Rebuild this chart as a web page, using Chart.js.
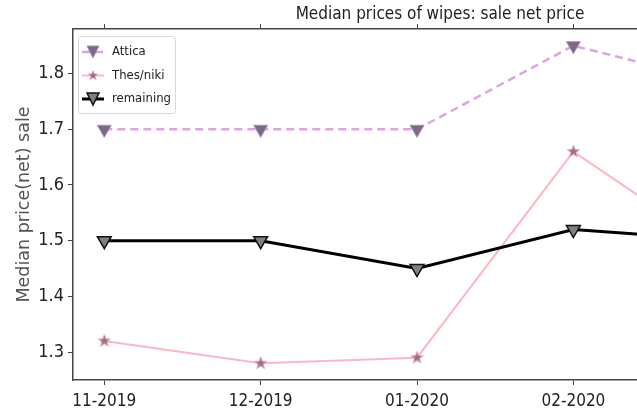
<!DOCTYPE html>
<html>
<head>
<meta charset="utf-8">
<script src="https://cdn.jsdelivr.net/npm/chart.js@4.4.1/dist/chart.umd.min.js"></script>
<style>
  html, body { margin: 0; padding: 0; background: #fff; overflow: hidden; }
  #wrap { width: 637px; height: 417px; overflow: hidden; }
</style>
</head>
<body>
<div id="wrap"><canvas id="salePriceChart" width="880" height="417"></canvas></div>
<script>
// Daten
const months = ['11-2019', '12-2019', '01-2020', '02-2020', '03-2020'];
const attica = [1.70, 1.70, 1.70, 1.85, 1.78];
const thesniki = [1.32, 1.28, 1.29, 1.66, 1.47];
const remaining = [1.50, 1.50, 1.45, 1.52, 1.50];
const yTicks = [1.3, 1.4, 1.5, 1.6, 1.7, 1.8];
const seriesNames = ['Attica', 'Thes/niki', 'remaining'];

const narrowFont = '"DejaVu Sans Condensed", "Liberation Sans Narrow", sans-serif';

// gefuellter Stern wie matplotlib '*'
function makeStar(size, fill, stroke) {
    const c = document.createElement('canvas');
    c.width = size; c.height = size;
    const g = c.getContext('2d');
    const cx = size / 2, cy = size / 2, R = size / 2 - 1, r = R * 0.42;
    g.beginPath();
    for (let k = 0; k < 10; k++) {
        const rad = k % 2 === 0 ? R : r;
        const a = -Math.PI / 2 + k * Math.PI / 5;
        const px = cx + rad * Math.cos(a), py = cy + rad * Math.sin(a);
        if (k === 0) g.moveTo(px, py); else g.lineTo(px, py);
    }
    g.closePath();
    g.fillStyle = fill; g.fill();
    g.lineWidth = 1; g.strokeStyle = stroke; g.stroke();
    return c;
}
const starImg = makeStar(15, '#957584', '#f0a8b8');

const toXY = arr => arr.map((v, i) => ({ x: i, y: v }));

function drawDownTriangle(ctx, x, y, r, fill, stroke, lw) {
    ctx.beginPath();
    ctx.moveTo(x - r, y - r);
    ctx.lineTo(x + r, y - r);
    ctx.lineTo(x, y + r);
    ctx.closePath();
    ctx.fillStyle = fill; ctx.fill();
    ctx.lineWidth = lw; ctx.strokeStyle = stroke; ctx.stroke();
}

// Legende innerhalb der Zeichenflaeche (oben links)
const insideLegend = {
    id: 'insideLegend',
    afterDatasetsDraw(chart) {
        const ctx = chart.ctx, area = chart.chartArea;
        const x0 = area.left + 5, y0 = area.top + 7, w = 97, h = 77;
        ctx.save();
        ctx.beginPath();
        ctx.roundRect(x0 + 0.5, y0 + 0.5, w, h, 3);
        ctx.fillStyle = 'rgba(255,255,255,0.8)';
        ctx.fill();
        ctx.strokeStyle = '#d8d8d8';
        ctx.lineWidth = 1;
        ctx.stroke();
        chart.data.datasets.forEach((ds, i) => {
            const cy = y0 + 16 + i * 23.5;
            const lx = x0 + 4, lx2 = x0 + 26, mx = (lx + lx2) / 2;
            ctx.beginPath();
            ctx.setLineDash(ds.borderDash || []);
            ctx.lineWidth = ds.borderWidth;
            ctx.strokeStyle = ds.borderColor;
            ctx.moveTo(lx, cy);
            ctx.lineTo(lx2, cy);
            ctx.stroke();
            ctx.setLineDash([]);
            if (ds.pointStyle === 'triangle') {
                drawDownTriangle(ctx, mx, cy, 6, ds.pointBackgroundColor, ds.pointBorderColor, ds.pointBorderWidth);
            } else {
                ctx.drawImage(ds.pointStyle, mx - 6, cy - 6, 12, 12);
            }
            ctx.fillStyle = '#222';
            ctx.font = '13px ' + narrowFont;
            ctx.textBaseline = 'middle';
            ctx.textAlign = 'left';
            ctx.fillText(ds.label, x0 + 34, cy);
        });
        ctx.restore();
    }
};

const monthTicks = scale => { scale.ticks = months.map((m, i) => ({ value: i })); };
const axisGrid = { drawOnChartArea: false, drawTicks: true, tickLength: 5, color: '#444', lineWidth: 1 };
const axisBorder = { display: true, color: '#444', width: 1.5 };

const ctx = document.getElementById('salePriceChart');
new Chart(ctx, {
    type: 'line',
    data: {
        datasets: [{
            label: seriesNames[0],
            data: toXY(attica),
            borderColor: '#dfa4df',
            borderDash: [8, 5],
            borderWidth: 2.5,
            pointStyle: 'triangle',
            pointRotation: 180,
            pointRadius: 8,
            pointBackgroundColor: '#7b6a84',
            pointBorderColor: '#b08ab6',
            pointBorderWidth: 1,
            tension: 0,
            order: 3
        }, {
            label: seriesNames[1],
            data: toXY(thesniki),
            borderColor: '#ffb6c1',
            borderWidth: 2,
            pointStyle: starImg,
            pointRadius: 7,
            tension: 0,
            order: 2
        }, {
            label: seriesNames[2],
            data: toXY(remaining),
            borderColor: '#000',
            borderWidth: 3,
            pointStyle: 'triangle',
            pointRotation: 180,
            pointRadius: 8,
            pointBackgroundColor: '#808080',
            pointBorderColor: '#111',
            pointBorderWidth: 1.5,
            tension: 0,
            order: 1
        }]
    },
    options: {
        responsive: false,
        animation: false,
        devicePixelRatio: 1,
        layout: { padding: 0 },
        plugins: {
            legend: { display: false },
            tooltip: { enabled: false },
            title: {
                display: true,
                text: 'Median prices of wipes: sale net price',
                color: '#222',
                font: { family: narrowFont, size: 17, weight: 'normal' },
                padding: { top: 4, bottom: 4.6 }
            }
        },
        scales: {
            x: {
                type: 'linear',
                min: -0.2,
                max: 4.9,
                afterBuildTicks: monthTicks,
                afterFit: s => { s.height = 37; },
                ticks: {
                    callback: v => months[Math.round(v)],
                    color: '#222',
                    font: { family: narrowFont, size: 17 },
                    padding: 6,
                    maxRotation: 0,
                    autoSkip: false
                },
                grid: axisGrid,
                border: axisBorder
            },
            xTop: {
                type: 'linear',
                position: 'top',
                min: -0.2,
                max: 4.9,
                afterBuildTicks: monthTicks,
                afterFit: s => { s.height = 0; },
                ticks: { display: false },
                grid: axisGrid,
                border: axisBorder
            },
            y: {
                min: 1.25,
                max: 1.88,
                afterBuildTicks: s => { s.ticks = yTicks.map(v => ({ value: v })); },
                afterFit: s => { s.width = 73; },
                ticks: {
                    callback: v => v.toFixed(1),
                    color: '#222',
                    font: { family: narrowFont, size: 18 },
                    padding: 4
                },
                grid: axisGrid,
                border: axisBorder,
                title: {
                    display: true,
                    text: 'Median price(net) sale',
                    color: '#555',
                    font: { family: '"DejaVu Sans", sans-serif', size: 17.5 },
                    padding: { top: 13.5, bottom: 0 }
                }
            }
        }
    },
    plugins: [insideLegend]
});
</script>
</body>
</html>
